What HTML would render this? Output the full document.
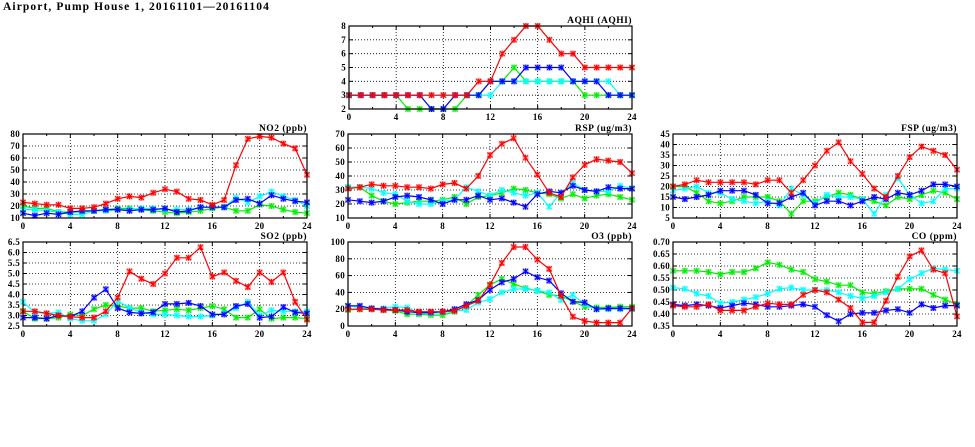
<!DOCTYPE html>
<html><head><meta charset="utf-8"><style>
html,body{margin:0;padding:0;background:#fff;}
svg{display:block;font-family:"Liberation Serif",serif;font-weight:bold;}
</style></head><body>
<svg id="chart" width="975" height="447" viewBox="0 0 975 447" xmlns="http://www.w3.org/2000/svg">
<text x="3" y="10" font-size="11.5" letter-spacing="1.1">Airport, Pump House 1, 20161101—20161104</text>
</svg>
<script>
const hours = [0,1,2,3,4,5,6,7,8,9,10,11,12,13,14,15,16,17,18,19,20,21,22,23,24];
const xTicks = [0,4,8,12,16,20,24];
const seriesColors = ["#00ee00","#00ffff","#0000ff","#ff0000"];

const aqhiRed   = [3,3,3,3,3,3,3,3,3,3,3,4,4,6,7,8,8,7,6,6,5,5,5,5,5];
const aqhiGreen = [3,3,3,3,3,2,2,2,2,2,3,3,4,4,5,4,4,4,4,4,3,3,3,3,3];
const aqhiCyan  = [3,3,3,3,3,3,3,3,3,3,3,3,3,4,4,4,4,4,4,4,4,4,4,3,3];
const aqhiBlue  = [3,3,3,3,3,3,3,2,2,3,3,3,4,4,4,5,5,5,5,4,4,4,3,3,3];
const aqhiTicks = [2,3,4,5,6,7,8];

const no2Red   = [23,22,21,21,18,18,19,22,26,28,27,31,34,32,26,25,21,25,54,76,78,77,72,68,46];
const no2Green = [20,18,18,15,15,15,16,17,18,18,17,16,15,14,15,16,18,19,16,16,21,20,17,15,14];
const no2Cyan  = [17,17,16,15,13,13,16,16,17,17,18,18,17,17,17,19,19,19,27,23,28,32,28,25,20];
const no2Blue  = [14,12,14,13,15,16,16,17,17,16,17,17,18,15,16,19,19,19,25,26,22,29,26,24,23];
const no2Ticks = [10,20,30,40,50,60,70,80];

const rspRed   = [31,32,34,33,33,32,32,31,34,35,31,40,55,63,67,53,41,28,25,39,48,52,51,50,42];
const rspGreen = [32,32,26,22,20,21,22,22,23,25,20,25,26,28,31,30,28,27,24,27,24,26,27,25,23];
const rspCyan  = [32,32,31,28,27,22,20,20,22,23,32,29,26,30,28,26,28,18,28,35,30,29,29,33,31];
const rspBlue  = [23,22,21,22,25,26,25,23,20,23,23,26,23,24,21,18,27,29,28,33,30,29,32,31,31];
const rspTicks = [10,20,30,40,50,60,70];

const fspRed   = [20,21,23,22,22,22,22,21,23,23,17,23,30,37,41,32,26,19,15,25,34,39,37,35,28];
const fspGreen = [20,20,17,13,12,13,15,15,15,13,7,13,13,15,17,16,14,13,11,15,14,16,18,17,14];
const fspCyan  = [18,19,20,17,17,14,13,12,13,11,19,16,12,16,15,15,14,7,16,24,16,12,13,19,19];
const fspBlue  = [15,14,15,16,18,18,18,16,12,12,15,17,11,13,13,11,13,15,14,17,16,18,21,21,20];
const fspTicks = [5,10,15,20,25,30,35,40,45];

const so2Red   = [3.2,3.2,3.1,3.0,2.95,2.9,2.9,3.2,3.85,5.1,4.75,4.5,5.0,5.75,5.75,6.25,4.85,5.05,4.65,4.35,5.05,4.6,5.05,3.65,2.8];
const so2Green = [3.2,2.85,2.85,2.9,3.05,3.0,3.3,3.5,3.45,3.35,3.35,3.2,3.25,3.3,3.25,3.35,3.45,3.3,2.9,2.9,3.3,2.85,2.9,2.9,2.85];
const so2Cyan  = [3.65,3.15,3.1,3.15,2.85,2.75,2.75,3.05,3.7,3.35,3.15,3.05,3.05,3.0,2.95,2.95,3.0,3.1,3.35,3.65,3.0,3.25,3.2,3.2,3.2];
const so2Blue  = [2.9,2.9,2.85,3.0,2.95,3.2,3.85,4.25,3.35,3.15,3.1,3.15,3.55,3.55,3.6,3.45,3.05,3.05,3.45,3.55,2.9,2.95,3.4,3.15,3.1];
const so2Ticks = [2.5,3.0,3.5,4.0,4.5,5.0,5.5,6.0,6.5];

const o3Red   = [20,20,20,19,19,19,17,17,17,18,24,30,49,75,94,94,79,68,36,11,6,4,4,4,21];
const o3Green = [19,20,20,19,18,14,14,13,13,17,24,37,49,56,50,45,42,37,36,29,23,22,22,23,23];
const o3Cyan  = [24,22,21,21,23,22,15,15,16,18,19,28,32,40,44,44,42,40,31,37,26,20,20,20,20];
const o3Blue  = [24,24,21,20,19,17,16,16,17,20,26,31,43,52,56,65,58,54,39,29,28,20,21,21,21];
const o3Ticks = [0,20,40,60,80,100];

const coRed   = [0.435,0.43,0.43,0.44,0.415,0.415,0.415,0.43,0.445,0.44,0.44,0.48,0.50,0.49,0.46,0.425,0.365,0.365,0.455,0.555,0.64,0.665,0.585,0.57,0.39];
const coGreen = [0.58,0.58,0.58,0.575,0.565,0.575,0.575,0.59,0.615,0.605,0.585,0.575,0.545,0.535,0.52,0.52,0.49,0.485,0.495,0.505,0.505,0.505,0.48,0.46,0.44];
const coCyan  = [0.51,0.505,0.485,0.475,0.445,0.45,0.46,0.47,0.485,0.505,0.51,0.50,0.50,0.50,0.49,0.475,0.465,0.475,0.49,0.505,0.545,0.57,0.59,0.585,0.58];
const coBlue  = [0.44,0.435,0.44,0.435,0.425,0.435,0.445,0.44,0.43,0.43,0.435,0.44,0.43,0.395,0.37,0.40,0.405,0.405,0.415,0.42,0.405,0.44,0.425,0.435,0.435];
const coTicks = [0.35,0.40,0.45,0.50,0.55,0.60,0.65,0.70];

const NS = "http://www.w3.org/2000/svg";
const svg = document.getElementById("chart");
function mk(tag, attrs, parent) {
  const e = document.createElementNS(NS, tag);
  for (const k in attrs) e.setAttribute(k, attrs[k]);
  (parent || svg).appendChild(e);
  return e;
}

const panels = [
  {key:"aqhi", title:"AQHI (AQHI)", x0:349, x1:632, y0:26, y1:109, ticks:aqhiTicks, dec:0, series:[aqhiGreen,aqhiCyan,aqhiBlue,aqhiRed]},
  {key:"no2", title:"NO2 (ppb)", x0:23, x1:307, y0:134, y1:218, ticks:no2Ticks, dec:0, series:[no2Green,no2Cyan,no2Blue,no2Red]},
  {key:"rsp", title:"RSP (ug/m3)", x0:348, x1:632, y0:134, y1:218, ticks:rspTicks, dec:0, series:[rspGreen,rspCyan,rspBlue,rspRed]},
  {key:"fsp", title:"FSP (ug/m3)", x0:673, x1:957, y0:134, y1:218, ticks:fspTicks, dec:0, series:[fspGreen,fspCyan,fspBlue,fspRed]},
  {key:"so2", title:"SO2 (ppb)", x0:23, x1:307, y0:242, y1:326, ticks:so2Ticks, dec:1, series:[so2Green,so2Cyan,so2Blue,so2Red]},
  {key:"o3", title:"O3 (ppb)", x0:348, x1:632, y0:242, y1:326, ticks:o3Ticks, dec:0, series:[o3Green,o3Cyan,o3Blue,o3Red]},
  {key:"co", title:"CO (ppm)", x0:673, x1:957, y0:242, y1:326, ticks:coTicks, dec:2, series:[coGreen,coCyan,coBlue,coRed]}
];
const seriesNames = ["green","cyan","blue","red"];

panels.forEach(p => {
  const g = mk("g", {});
  
  
  const ymin = p.ticks[0], ymax = p.ticks[p.ticks.length-1];
  const xs = h => p.x0 + (h - 0) / 24 * (p.x1 - p.x0);
  const ys = v => p.y1 - (v - ymin) / (ymax - ymin) * (p.y1 - p.y0);
  p.ticks.forEach((t,i) => {
    const y = ys(t);
    if (i>0 && i<p.ticks.length-1) {
      const l = mk("line", {x1:p.x0, x2:p.x1, y1:y, y2:y, stroke:"#000", "stroke-width":0.8, "stroke-dasharray":"1,2"}, g);
      
      
    }
    mk("line", {x1:p.x0, x2:p.x0+4, y1:y, y2:y, stroke:"#000", "stroke-width":1}, g);
    mk("line", {x1:p.x1-4, x2:p.x1, y1:y, y2:y, stroke:"#000", "stroke-width":1}, g);
    const tx = mk("text", {x:p.x0-3, y:y+3, "font-size":9, "letter-spacing":0.3, "text-anchor":"end"}, g);
    
    
    tx.textContent = t.toFixed(p.dec);
  });
  xTicks.forEach((t,i) => {
    const x = xs(t);
    if (i>0 && i<xTicks.length-1) {
      const l = mk("line", {x1:x, x2:x, y1:p.y0, y2:p.y1, stroke:"#000", "stroke-width":0.8, "stroke-dasharray":"1,2"}, g);
      
      
    }
    mk("line", {x1:x, x2:x, y1:p.y1, y2:p.y1-4, stroke:"#000", "stroke-width":1}, g);
    mk("line", {x1:x, x2:x, y1:p.y0, y2:p.y0+4, stroke:"#000", "stroke-width":1}, g);
    const tx = mk("text", {x:x, y:p.y1+11, "font-size":9, "letter-spacing":0.3, "text-anchor":"middle"}, g);
    
    
    tx.textContent = t;
  });
  for (let h=2; h<24; h+=4) {
    const x = xs(h);
    mk("line", {x1:x, x2:x, y1:p.y1, y2:p.y1-2, stroke:"#000", "stroke-width":1}, g);
    mk("line", {x1:x, x2:x, y1:p.y0, y2:p.y0+2, stroke:"#000", "stroke-width":1}, g);
  }
  p.series.forEach((vals, si) => {
    const col = seriesColors[si];
    const sg = mk("g", {}, g);
    
    
    const pts = vals.map((v,i) => xs(hours[i]).toFixed(1) + "," + ys(v).toFixed(1)).join(" ");
    const pl = mk("polyline", {points:pts, fill:"none", stroke:col, "stroke-width":1.2}, sg);
    
    
    vals.forEach((v,i) => {
      const cx = xs(hours[i]), cy = ys(v);
      const m = mk("g", {}, sg);
      
      
      mk("rect", {x:cx-3, y:cy-3, width:6, height:6, fill:col, opacity:0.35}, m);
      mk("path", {d:`M${cx-2.5},${cy-2.5}L${cx+2.5},${cy+2.5}M${cx-2.5},${cy+2.5}L${cx+2.5},${cy-2.5}M${cx},${cy-3}L${cx},${cy+3}`, stroke:col, "stroke-width":1, fill:"none"}, m);
    });
  });
  const fr = mk("rect", {x:p.x0, y:p.y0, width:p.x1-p.x0, height:p.y1-p.y0, fill:"none", stroke:"#000", "stroke-width":1.2}, g);
  
  
  const tt = mk("text", {x:p.x1, y:p.y0-3, "font-size":9.5, "letter-spacing":0.5, "text-anchor":"end"}, g);
  
  
  tt.textContent = p.title;
});
</script>
</body></html>
